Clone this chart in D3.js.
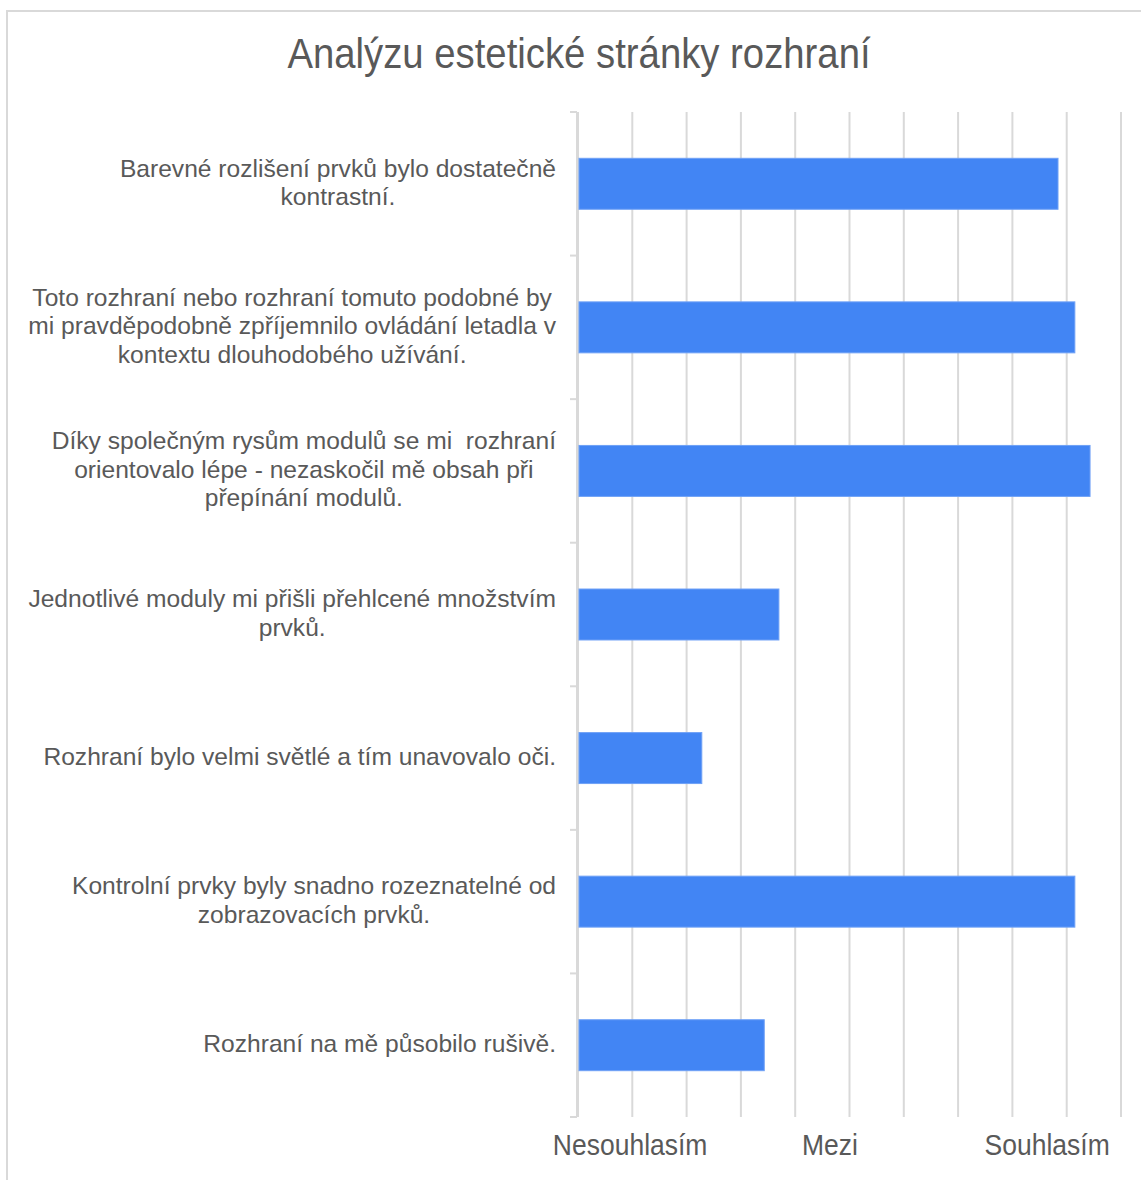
<!DOCTYPE html>
<html>
<head>
<meta charset="utf-8">
<script src="https://cdn.jsdelivr.net/npm/d3@7"></script>
<style>
  body { margin: 0; background: #fff; }
  text { font-family: "Liberation Sans", Arial, sans-serif; fill: #595959; white-space: pre; }
</style>
</head>
<body>
<div id="chart"></div>
<script>
var width = 1141,
    height = 1180

var title = "Analýzu estetické stránky rozhraní"

// otázky (zalomení řádků podle originálu)
var categories = [
  "Barevné rozlišení prvků bylo dostatečně\nkontrastní.",
  "Toto rozhraní nebo rozhraní tomuto podobné by\nmi pravděpodobně zpříjemnilo ovládání letadla v\nkontextu dlouhodobého užívání.",
  "Díky společným rysům modulů se mi  rozhraní\norientovalo lépe - nezaskočil mě obsah při\npřepínání modulů.",
  "Jednotlivé moduly mi přišli přehlcené množstvím\nprvků.",
  "Rozhraní bylo velmi světlé a tím unavovalo oči.",
  "Kontrolní prvky byly snadno rozeznatelné od\nzobrazovacích prvků.",
  "Rozhraní na mě působilo rušivě."
]

var values = [8.84, 9.15, 9.43, 3.70, 2.28, 9.15, 3.43]

var tickValues = [0.96, 4.64, 8.64]
var tickLabels = ["Nesouhlasím", "Mezi", "Souhlasím"]

var gridValues = d3.range(0, 11)

var stretch = 1.12  // nadpis a popisky osy jsou v originálu svisle protažené

var svg = d3.select("#chart")
  .append("svg")
    .attr("width", width)
    .attr("height", height)

// rámeček grafu
svg.append("rect")
  .attr("x", 7)
  .attr("y", 11)
  .attr("width", width + 10)
  .attr("height", height + 10)
  .attr("fill", "none")
  .attr("stroke", "#d9d9d9")
  .attr("stroke-width", 2)

svg.append("text")
  .attr("transform", "translate(579,68) scale(1," + stretch + ")")
  .attr("text-anchor", "middle")
  .style("font-size", "38.3px")
  .text(title)

var x = d3.scaleLinear()
  .domain([0, 10])
  .range([578, 1121])

var y = d3.scaleBand()
  .domain(categories)
  .range([112, 1117])
  .paddingInner(0.645)
  .paddingOuter(0.3225)

// mřížka
svg.selectAll(".grid")
  .data(gridValues)
  .enter()
  .append("line")
    .attr("x1", function(d) { return x(d) })
    .attr("x2", function(d) { return x(d) })
    .attr("y1", 112)
    .attr("y2", 1117)
    .attr("stroke", "#d9d9d9")
    .attr("stroke-width", 2)

// levá osa s tiky mezi kategoriemi
var bounds = categories.map(function(c) { return y(c) - y.step() * y.paddingInner() / 2 })
bounds.push(1117)
svg.append("line")
  .attr("x1", 577).attr("x2", 577)
  .attr("y1", 112).attr("y2", 1117)
  .attr("stroke", "#d9d9d9")
  .attr("stroke-width", 2)
svg.selectAll(".ytick")
  .data(bounds)
  .enter()
  .append("line")
    .attr("x1", 570).attr("x2", 577)
    .attr("y1", function(d) { return d })
    .attr("y2", function(d) { return d })
    .attr("stroke", "#d9d9d9")
    .attr("stroke-width", 2)

// sloupce
svg.selectAll(".bar")
  .data(values)
  .enter()
  .append("rect")
    .attr("x", x(0) + 1)
    .attr("y", function(d, i) { return y(categories[i]) })
    .attr("width", function(d) { return x(d) - x(0) - 1 })
    .attr("height", y.bandwidth())
    .attr("fill", "#4285f4")
    .attr("stroke", "#6fa1f6")
    .attr("stroke-width", 1)

// popisky kategorií - řádky centrované, blok zarovnaný vpravo
var lineH = 28.5
categories.forEach(function(c) {
  var lines = c.split("\n")
  var g = svg.append("g")
  var texts = lines.map(function(l) {
    return g.append("text")
      .attr("text-anchor", "middle")
      .style("font-size", "24.6px")
      .text(l)
  })
  var maxW = d3.max(texts, function(t) { return t.node().getComputedTextLength() })
  var cx = 556 - maxW / 2
  var cy = y(c) + y.bandwidth() / 2
  texts.forEach(function(t, i) {
    t.attr("x", cx)
     .attr("y", cy + (i - (lines.length - 1) / 2) * lineH + 7)
  })
})

// popisky osy x
svg.selectAll(".xlabel")
  .data(tickValues)
  .enter()
  .append("text")
    .attr("transform", function(d) { return "translate(" + x(d) + ",1155) scale(1," + stretch + ")" })
    .attr("text-anchor", "middle")
    .style("font-size", "26.5px")
    .text(function(d, i) { return tickLabels[i] })
</script>
</body>
</html>
